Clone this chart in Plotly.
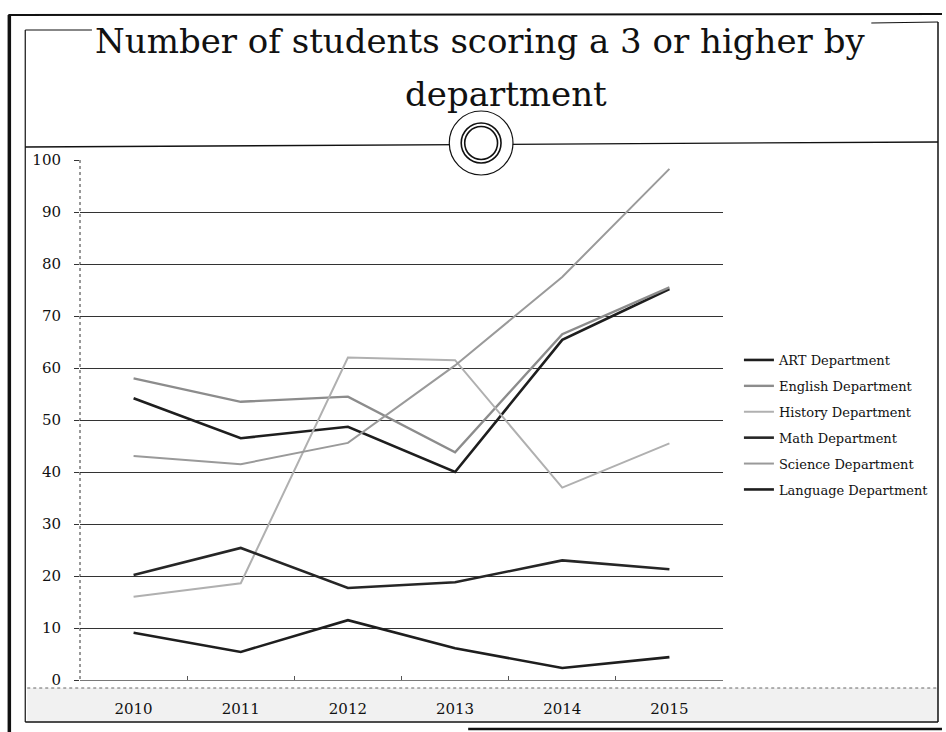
import plotly.graph_objects as go

years = ["2010", "2011", "2012", "2013", "2014", "2015"]
art = [54.2, 46.5, 48.7, 40.0, 65.4, 75.2]
english = [58.0, 53.5, 54.5, 43.8, 66.5, 75.5]
history = [16.0, 18.6, 62.0, 61.5, 37.0, 45.5]
math_ = [20.2, 25.4, 17.7, 18.8, 23.0, 21.3]
science = [43.1, 41.5, 45.6, 60.5, 77.5, 98.3]
language = [9.1, 5.4, 11.5, 6.1, 2.3, 4.4]
y_ticks = [0, 10, 20, 30, 40, 50, 60, 70, 80, 90, 100]

series = [
    ("ART Department", art, "#1e1e1e", 2.6),
    ("English Department", english, "#8c8c8c", 2.4),
    ("History Department", history, "#b0b0b0", 2.0),
    ("Math Department", math_, "#262626", 2.6),
    ("Science Department", science, "#9a9a9a", 2.0),
    ("Language Department", language, "#1e1e1e", 2.6),
]

W, H = 946, 732
L, R, T, B = 80, 726, 160, 680


def px(x):
    return (x - L) / (R - L)


def py(y):
    return (B - y) / (B - T)


fig = go.Figure()
for i, (name, vals, col, w) in enumerate(series):
    fig.add_trace(go.Scatter(
        x=years, y=vals, name=name, mode="lines",
        line=dict(color=col, width=w), legendgroup=f"g{i}",
    ))

shapes = []


def line(x0, y0, x1, y1, w=1.5, color="#111", dash="solid"):
    shapes.append(dict(type="line", xref="paper", yref="paper",
                       x0=px(x0), y0=py(y0), x1=px(x1), y1=py(y1),
                       line=dict(color=color, width=w, dash=dash), layer="above"))


# bottom stippled band
shapes.append(dict(type="rect", xref="paper", yref="paper",
                   x0=px(27), y0=py(688), x1=px(942), y1=py(721),
                   fillcolor="#f1f1f1", line=dict(width=0), layer="below"))
line(27, 688, 942, 688, 1, "#666", "dot")
# frames
line(9, 15, 9, 732, 3.5)
line(8, 15, 946, 14, 2)
line(25, 30, 25, 722, 1.2)
line(25, 30, 92, 30, 1.2)
line(875, 23, 942, 22, 1.2)
line(942, 22, 942, 722, 1.5)
line(25, 722, 942, 722, 1.5)
line(470, 729, 946, 729, 2.5)
# separator
line(25, 147, 942, 142, 1.3)
# y-axis dotted line
line(80, 160, 80, 682, 1, "#333", "dot")

layout_shapes = list(shapes)
# ornament circles
cx, cy = 483, 143
for r, w, fill in [(32, 1.2, "white"), (20, 1.6, "rgba(0,0,0,0)"), (16.5, 1.6, "rgba(0,0,0,0)")]:
    layout_shapes.append(dict(type="circle", xref="paper", yref="paper",
                              x0=px(cx - r), x1=px(cx + r), y0=py(cy + r), y1=py(cy - r),
                              line=dict(color="#111", width=w), fillcolor=fill, layer="above"))

title_font = dict(family="DejaVu Serif", size=34, color="#111")
annotations = [
    dict(text="Number of students scoring a 3 or higher by", xref="paper", yref="paper",
         x=px(482), y=py(41), xanchor="center", yanchor="middle", showarrow=False,
         font=title_font),
    dict(text="department", xref="paper", yref="paper",
         x=px(508), y=py(94), xanchor="center", yanchor="middle", showarrow=False,
         font=title_font),
]

fig.update_layout(
    width=W, height=H,
    margin=dict(l=L, r=W - R, t=T, b=H - B, pad=0),
    paper_bgcolor="white", plot_bgcolor="white",
    showlegend=True,
    legend=dict(x=px(742), y=py(345), xanchor="left", yanchor="top",
                font=dict(family="DejaVu Serif", size=13, color="#111"),
                tracegroupgap=6, bgcolor="rgba(0,0,0,0)", itemwidth=30),
    shapes=layout_shapes,
    annotations=annotations,
    font=dict(family="DejaVu Serif", color="#111"),
)
fig.update_xaxes(
    type="category", range=[-0.5, 5.5], showgrid=False, zeroline=False,
    showline=True, linecolor="#777", linewidth=1,
    ticks="inside", tickson="boundaries", ticklen=4, tickcolor="#555",
    ticklabelstandoff=15, tickfont=dict(family="DejaVu Serif", size=15, color="#111"),
)
fig.update_yaxes(
    range=[0, 100], tickvals=y_ticks, showgrid=True, gridcolor="#333", gridwidth=1,
    zeroline=False, showline=False, ticks="outside", ticklen=5, tickcolor="#333",
    ticklabelstandoff=10, tickfont=dict(family="DejaVu Serif", size=15, color="#111"),
)

fig.write_html("out.html")
